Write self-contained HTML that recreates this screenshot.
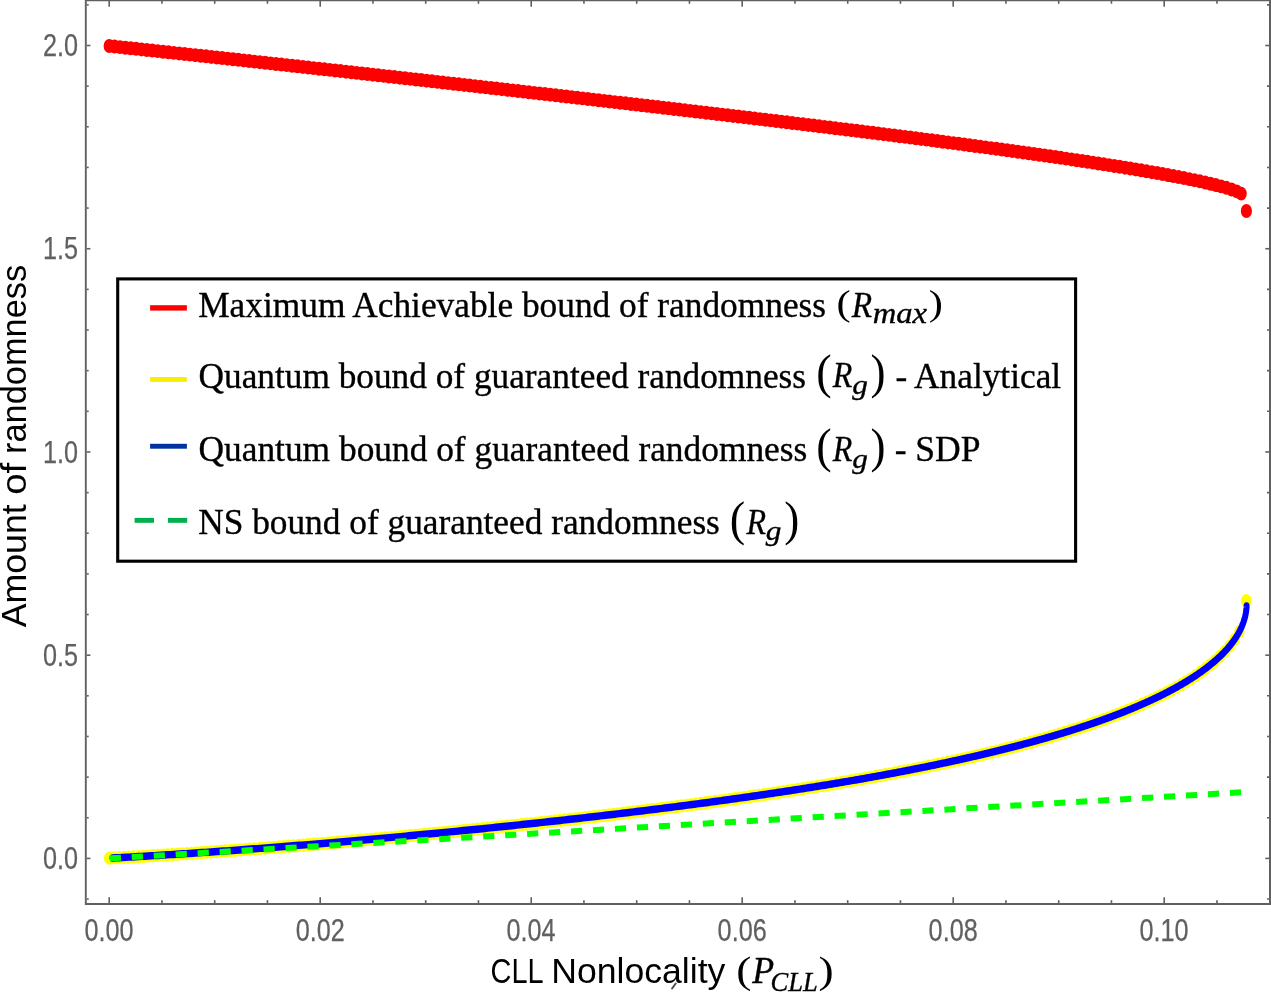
<!DOCTYPE html>
<html><head><meta charset="utf-8"><title>Randomness plot</title>
<style>
html,body{margin:0;padding:0;background:#fff;}
body{width:1271px;height:992px;overflow:hidden;position:relative;}
svg{position:absolute;left:0;top:0;display:block;}
.tk{font-family:"Liberation Sans",Arial,sans-serif;fill:#606060;stroke:#606060;stroke-width:0.25px;}
.lg{font-family:"Liberation Serif","Times New Roman",serif;fill:#000;stroke:#000;stroke-width:0.35px;}
.mi{font-family:"Liberation Serif","Times New Roman",serif;font-style:italic;fill:#000;stroke:#000;stroke-width:0.35px;}
.lp{font-family:"Liberation Serif","Times New Roman",serif;fill:#000;}
.al{font-family:"Liberation Sans",Arial,sans-serif;fill:#000;}
</style></head><body>
<svg width="1271" height="992" viewBox="0 0 1271 992">
<rect x="0" y="0" width="1271" height="992" fill="#fff"/>
<g transform="scale(1,1.245)"><polyline points="109.20,36.95 113.73,37.33 118.26,37.71 122.77,38.10 127.28,38.48 131.77,38.86 136.26,39.24 140.74,39.63 145.21,40.01 149.67,40.39 154.12,40.77 158.56,41.15 162.99,41.53 167.41,41.91 171.83,42.29 176.23,42.67 180.63,43.05 185.02,43.43 189.39,43.81 193.76,44.19 198.12,44.56 202.47,44.94 206.82,45.32 211.15,45.69 215.47,46.07 219.79,46.45 224.09,46.82 228.39,47.20 232.67,47.57 236.95,47.94 241.22,48.32 245.48,48.69 249.73,49.06 253.97,49.44 258.21,49.81 262.43,50.18 266.64,50.55 270.85,50.92 275.04,51.29 279.23,51.66 283.41,52.03 287.58,52.39 291.74,52.76 295.89,53.13 300.03,53.49 304.16,53.86 308.29,54.23 312.40,54.59 316.51,54.96 320.60,55.32 324.69,55.68 328.77,56.04 332.84,56.41 336.89,56.77 340.95,57.13 344.99,57.49 349.02,57.85 353.04,58.21 357.06,58.57 361.06,58.92 365.06,59.28 369.05,59.64 373.02,59.99 376.99,60.35 380.95,60.70 384.90,61.06 388.84,61.41 392.78,61.77 396.70,62.12 400.61,62.47 404.52,62.82 408.42,63.17 412.30,63.52 416.18,63.87 420.05,64.22 423.91,64.57 427.76,64.91 431.60,65.26 435.43,65.61 439.26,65.95 443.07,66.30 446.88,66.64 450.67,66.98 454.46,67.33 458.24,67.67 462.01,68.01 465.76,68.35 469.52,68.69 473.26,69.03 476.99,69.37 480.71,69.71 484.43,70.05 488.13,70.38 491.83,70.72 495.52,71.06 499.19,71.39 502.86,71.72 506.52,72.06 510.17,72.39 513.81,72.72 517.45,73.05 521.07,73.39 524.68,73.72 528.29,74.05 531.88,74.37 535.47,74.70 539.05,75.03 542.62,75.36 546.18,75.68 549.73,76.01 553.27,76.33 556.80,76.66 560.33,76.98 563.84,77.31 567.34,77.63 570.84,77.95 574.33,78.27 577.81,78.59 581.27,78.91 584.73,79.23 588.18,79.55 591.63,79.86 595.06,80.18 598.48,80.50 601.90,80.81 605.30,81.13 608.70,81.44 612.08,81.76 615.46,82.07 618.83,82.38 622.19,82.69 625.54,83.00 628.88,83.32 632.21,83.62 635.54,83.93 638.85,84.24 642.16,84.55 645.45,84.86 648.74,85.16 652.02,85.47 655.29,85.77 658.55,86.08 661.80,86.38 665.04,86.69 668.27,86.99 671.49,87.29 674.71,87.59 677.91,87.89 681.11,88.19 684.29,88.49 687.47,88.79 690.64,89.09 693.80,89.39 696.95,89.68 700.09,89.98 703.22,90.27 706.35,90.57 709.46,90.86 712.57,91.16 715.66,91.45 718.75,91.74 721.83,92.03 724.90,92.32 727.96,92.61 731.01,92.90 734.05,93.19 737.08,93.48 740.10,93.77 743.12,94.06 746.12,94.34 749.12,94.63 752.11,94.92 755.08,95.20 758.05,95.48 761.01,95.77 763.96,96.05 766.90,96.33 769.84,96.61 772.76,96.90 775.67,97.18 778.58,97.46 781.47,97.73 784.36,98.01 787.24,98.29 790.11,98.57 792.97,98.85 795.82,99.12 798.66,99.40 801.49,99.67 804.31,99.95 807.13,100.22 809.93,100.49 812.73,100.77 815.52,101.04 818.29,101.31 821.06,101.58 823.82,101.85 826.57,102.12 829.31,102.39 832.05,102.66 834.77,102.93 837.48,103.19 840.19,103.46 842.88,103.73 845.57,103.99 848.25,104.26 850.92,104.52 853.58,104.78 856.23,105.05 858.87,105.31 861.50,105.57 864.12,105.83 866.74,106.09 869.34,106.35 871.94,106.61 874.52,106.87 877.10,107.13 879.67,107.39 882.23,107.65 884.78,107.90 887.32,108.16 889.85,108.41 892.38,108.67 894.89,108.92 897.40,109.18 899.89,109.43 902.38,109.68 904.86,109.94 907.32,110.19 909.78,110.44 912.23,110.69 914.68,110.94 917.11,111.19 919.53,111.44 921.95,111.68 924.35,111.93 926.75,112.18 929.13,112.43 931.51,112.67 933.88,112.92 936.24,113.16 938.59,113.41 940.93,113.65 943.26,113.89 945.59,114.14 947.90,114.38 950.20,114.62 952.50,114.86 954.79,115.10 957.06,115.34 959.33,115.58 961.59,115.82 963.84,116.06 966.08,116.29 968.32,116.53 970.54,116.77 972.75,117.00 974.96,117.24 977.15,117.47 979.34,117.71 981.52,117.94 983.69,118.17 985.85,118.41 988.00,118.64 990.14,118.87 992.27,119.10 994.39,119.33 996.51,119.56 998.61,119.79 1000.71,120.02 1002.79,120.25 1004.87,120.47 1006.94,120.70 1009.00,120.93 1011.05,121.15 1013.09,121.38 1015.12,121.60 1017.15,121.83 1019.16,122.05 1021.17,122.28 1023.16,122.50 1025.15,122.72 1027.13,122.94 1029.09,123.16 1031.05,123.38 1033.00,123.60 1034.94,123.82 1036.88,124.04 1038.80,124.26 1040.71,124.48 1042.62,124.69 1044.51,124.91 1046.40,125.13 1048.28,125.34 1050.15,125.56 1052.01,125.77 1053.86,125.98 1055.70,126.20 1057.53,126.41 1059.35,126.62 1061.17,126.83 1062.97,127.04 1064.77,127.26 1066.55,127.46 1068.33,127.67 1070.10,127.88 1071.86,128.09 1073.61,128.30 1075.35,128.51 1077.08,128.71 1078.81,128.92 1080.52,129.12 1082.23,129.33 1083.92,129.53 1085.61,129.74 1087.28,129.94 1088.95,130.14 1090.61,130.34 1092.26,130.55 1093.90,130.75 1095.54,130.95 1097.16,131.15 1098.77,131.35 1100.38,131.54 1101.97,131.74 1103.56,131.94 1105.14,132.14 1106.71,132.33 1108.27,132.53 1109.82,132.72 1111.36,132.92 1112.89,133.11 1114.41,133.31 1115.93,133.50 1117.43,133.69 1118.93,133.88 1120.41,134.08 1121.89,134.27 1123.36,134.46 1124.82,134.65 1126.27,134.84 1127.71,135.02 1129.14,135.21 1130.56,135.40 1131.98,135.59 1133.38,135.77 1134.78,135.96 1136.17,136.14 1137.54,136.33 1138.91,136.51 1140.27,136.69 1141.62,136.88 1142.96,137.06 1144.29,137.24 1145.62,137.42 1146.93,137.60 1148.24,137.78 1149.53,137.96 1150.82,138.14 1152.10,138.32 1153.36,138.49 1154.62,138.67 1155.87,138.85 1157.11,139.02 1158.35,139.20 1159.57,139.37 1160.78,139.54 1161.99,139.72 1163.18,139.89 1164.37,140.06 1165.55,140.23 1166.72,140.40 1167.87,140.57 1169.03,140.74 1170.17,140.91 1171.30,141.08 1172.42,141.25 1173.53,141.42 1174.64,141.58 1175.74,141.75 1176.82,141.91 1177.90,142.08 1178.97,142.24 1180.03,142.40 1181.08,142.57 1182.12,142.73 1183.15,142.89 1184.17,143.05 1185.19,143.21 1186.19,143.37 1187.19,143.53 1188.17,143.69 1189.15,143.85 1190.12,144.00 1191.08,144.16 1192.03,144.32 1192.97,144.47 1193.90,144.63 1194.82,144.78 1195.74,144.93 1196.64,145.09 1197.54,145.24 1198.43,145.39 1199.30,145.54 1200.17,145.69 1201.03,145.84 1201.88,145.99 1202.72,146.14 1203.55,146.28 1204.38,146.43 1205.19,146.58 1205.99,146.72 1206.79,146.87 1207.58,147.01 1208.35,147.15 1209.12,147.30 1209.88,147.44 1210.63,147.58 1211.37,147.72 1212.10,147.86 1212.83,148.00 1213.54,148.14 1214.25,148.28 1214.94,148.41 1215.63,148.55 1216.31,148.69 1216.97,148.82 1217.63,148.96 1218.28,149.09 1218.92,149.22 1219.56,149.35 1220.18,149.48 1220.79,149.62 1221.40,149.75 1221.99,149.87 1222.58,150.00 1223.16,150.13 1223.72,150.26 1224.28,150.38 1224.83,150.51 1225.37,150.63 1225.91,150.76 1226.43,150.88 1226.94,151.00 1227.45,151.12 1227.94,151.24 1228.43,151.36 1228.91,151.48 1229.38,151.60 1229.83,151.71 1230.28,151.83 1230.73,151.94 1231.16,152.06 1231.58,152.17 1231.99,152.28 1232.40,152.39 1232.79,152.50 1233.18,152.61 1233.56,152.72 1233.93,152.83 1234.29,152.93 1234.64,153.04 1234.98,153.14 1235.31,153.24 1235.63,153.34 1235.94,153.44 1236.25,153.54 1236.54,153.64 1236.83,153.73 1237.11,153.83 1237.38,153.92 1237.64,154.01 1237.89,154.10 1238.13,154.19 1238.36,154.27 1238.58,154.36 1238.80,154.44 1239.00,154.52 1239.20,154.60 1239.38,154.67 1239.56,154.74 1239.73,154.81 1239.89,154.88 1240.04,154.95 1240.18,155.01 1240.31,155.07 1240.43,155.13 1240.55,155.18 1240.65,155.23 1240.75,155.27 1240.83,155.31 1240.91,155.35 1240.98,155.39 1241.04,155.42 1241.09,155.44 1241.13,155.46 1241.16,155.48 1241.18,155.49 1241.20,155.50 1241.20,155.50" fill="none" stroke="#ff0000" stroke-width="11.2" stroke-linecap="round" stroke-linejoin="round" stroke-dasharray="0 5.4"/></g>
<ellipse cx="1246.4" cy="211" rx="5.6" ry="6.9" fill="#ff0000"/>
<ellipse cx="1241.20" cy="193.60" rx="5.6" ry="6.97" fill="#ff0000"/>
<g fill="#ffff00"><ellipse cx="109.30" cy="858.20" rx="5.3" ry="6.6"/><ellipse cx="114.15" cy="857.94" rx="5.3" ry="6.6"/><ellipse cx="119.00" cy="857.67" rx="5.3" ry="6.6"/><ellipse cx="123.85" cy="857.41" rx="5.3" ry="6.6"/><ellipse cx="128.70" cy="857.13" rx="5.3" ry="6.6"/><ellipse cx="133.55" cy="856.86" rx="5.3" ry="6.6"/><ellipse cx="138.40" cy="856.58" rx="5.3" ry="6.6"/><ellipse cx="143.25" cy="856.29" rx="5.3" ry="6.6"/><ellipse cx="148.10" cy="856.00" rx="5.3" ry="6.6"/><ellipse cx="152.95" cy="855.71" rx="5.3" ry="6.6"/><ellipse cx="157.80" cy="855.42" rx="5.3" ry="6.6"/><ellipse cx="162.65" cy="855.12" rx="5.3" ry="6.6"/><ellipse cx="167.50" cy="854.81" rx="5.3" ry="6.6"/><ellipse cx="172.35" cy="854.51" rx="5.3" ry="6.6"/><ellipse cx="177.20" cy="854.20" rx="5.3" ry="6.6"/><ellipse cx="182.05" cy="853.89" rx="5.3" ry="6.6"/><ellipse cx="186.90" cy="853.57" rx="5.3" ry="6.6"/><ellipse cx="191.75" cy="853.25" rx="5.3" ry="6.6"/><ellipse cx="196.60" cy="852.92" rx="5.3" ry="6.6"/><ellipse cx="201.45" cy="852.60" rx="5.3" ry="6.6"/><ellipse cx="206.30" cy="852.27" rx="5.3" ry="6.6"/><ellipse cx="211.15" cy="851.93" rx="5.3" ry="6.6"/><ellipse cx="216.00" cy="851.60" rx="5.3" ry="6.6"/><ellipse cx="220.85" cy="851.26" rx="5.3" ry="6.6"/><ellipse cx="225.70" cy="850.91" rx="5.3" ry="6.6"/><ellipse cx="230.55" cy="850.57" rx="5.3" ry="6.6"/><ellipse cx="235.40" cy="850.22" rx="5.3" ry="6.6"/><ellipse cx="240.25" cy="849.87" rx="5.3" ry="6.6"/><ellipse cx="245.10" cy="849.51" rx="5.3" ry="6.6"/><ellipse cx="249.95" cy="849.15" rx="5.3" ry="6.6"/><ellipse cx="254.80" cy="848.79" rx="5.3" ry="6.6"/><ellipse cx="259.65" cy="848.42" rx="5.3" ry="6.6"/><ellipse cx="264.50" cy="848.06" rx="5.3" ry="6.6"/><ellipse cx="269.35" cy="847.69" rx="5.3" ry="6.6"/><ellipse cx="274.20" cy="847.31" rx="5.3" ry="6.6"/><ellipse cx="279.05" cy="846.93" rx="5.3" ry="6.6"/><ellipse cx="283.90" cy="846.55" rx="5.3" ry="6.6"/><ellipse cx="288.75" cy="846.17" rx="5.3" ry="6.6"/><ellipse cx="293.60" cy="845.79" rx="5.3" ry="6.6"/><ellipse cx="298.45" cy="845.40" rx="5.3" ry="6.6"/><ellipse cx="303.30" cy="845.01" rx="5.3" ry="6.6"/><ellipse cx="308.15" cy="844.61" rx="5.3" ry="6.6"/><ellipse cx="313.00" cy="844.22" rx="5.3" ry="6.6"/><ellipse cx="317.85" cy="843.82" rx="5.3" ry="6.6"/><ellipse cx="322.70" cy="843.41" rx="5.3" ry="6.6"/><ellipse cx="327.55" cy="843.01" rx="5.3" ry="6.6"/><ellipse cx="332.40" cy="842.60" rx="5.3" ry="6.6"/><ellipse cx="337.25" cy="842.19" rx="5.3" ry="6.6"/><ellipse cx="342.10" cy="841.78" rx="5.3" ry="6.6"/><ellipse cx="346.95" cy="841.36" rx="5.3" ry="6.6"/><ellipse cx="351.80" cy="840.94" rx="5.3" ry="6.6"/><ellipse cx="356.65" cy="840.52" rx="5.3" ry="6.6"/><ellipse cx="361.50" cy="840.10" rx="5.3" ry="6.6"/><ellipse cx="366.35" cy="839.67" rx="5.3" ry="6.6"/><ellipse cx="371.20" cy="839.24" rx="5.3" ry="6.6"/><ellipse cx="376.05" cy="838.81" rx="5.3" ry="6.6"/><ellipse cx="380.90" cy="838.38" rx="5.3" ry="6.6"/><ellipse cx="385.75" cy="837.94" rx="5.3" ry="6.6"/><ellipse cx="390.60" cy="837.50" rx="5.3" ry="6.6"/><ellipse cx="395.45" cy="837.06" rx="5.3" ry="6.6"/><ellipse cx="400.30" cy="836.61" rx="5.3" ry="6.6"/><ellipse cx="405.15" cy="836.16" rx="5.3" ry="6.6"/><ellipse cx="410.00" cy="835.71" rx="5.3" ry="6.6"/><ellipse cx="414.85" cy="835.26" rx="5.3" ry="6.6"/><ellipse cx="419.70" cy="834.80" rx="5.3" ry="6.6"/><ellipse cx="424.55" cy="834.35" rx="5.3" ry="6.6"/><ellipse cx="429.40" cy="833.89" rx="5.3" ry="6.6"/><ellipse cx="434.25" cy="833.42" rx="5.3" ry="6.6"/><ellipse cx="439.10" cy="832.96" rx="5.3" ry="6.6"/><ellipse cx="443.95" cy="832.49" rx="5.3" ry="6.6"/><ellipse cx="448.80" cy="832.02" rx="5.3" ry="6.6"/><ellipse cx="453.65" cy="831.54" rx="5.3" ry="6.6"/><ellipse cx="458.50" cy="831.06" rx="5.3" ry="6.6"/><ellipse cx="463.35" cy="830.58" rx="5.3" ry="6.6"/><ellipse cx="468.20" cy="830.10" rx="5.3" ry="6.6"/><ellipse cx="473.05" cy="829.62" rx="5.3" ry="6.6"/><ellipse cx="477.90" cy="829.13" rx="5.3" ry="6.6"/><ellipse cx="482.75" cy="828.64" rx="5.3" ry="6.6"/><ellipse cx="487.60" cy="828.15" rx="5.3" ry="6.6"/><ellipse cx="492.45" cy="827.65" rx="5.3" ry="6.6"/><ellipse cx="497.30" cy="827.15" rx="5.3" ry="6.6"/><ellipse cx="502.15" cy="826.65" rx="5.3" ry="6.6"/><ellipse cx="507.00" cy="826.15" rx="5.3" ry="6.6"/><ellipse cx="511.85" cy="825.64" rx="5.3" ry="6.6"/><ellipse cx="516.70" cy="825.13" rx="5.3" ry="6.6"/><ellipse cx="521.55" cy="824.62" rx="5.3" ry="6.6"/><ellipse cx="526.40" cy="824.10" rx="5.3" ry="6.6"/><ellipse cx="531.25" cy="823.58" rx="5.3" ry="6.6"/><ellipse cx="536.10" cy="823.06" rx="5.3" ry="6.6"/><ellipse cx="540.95" cy="822.54" rx="5.3" ry="6.6"/><ellipse cx="545.80" cy="822.01" rx="5.3" ry="6.6"/><ellipse cx="550.65" cy="821.48" rx="5.3" ry="6.6"/><ellipse cx="555.50" cy="820.95" rx="5.3" ry="6.6"/><ellipse cx="560.35" cy="820.41" rx="5.3" ry="6.6"/><ellipse cx="565.20" cy="819.87" rx="5.3" ry="6.6"/><ellipse cx="570.05" cy="819.33" rx="5.3" ry="6.6"/><ellipse cx="574.90" cy="818.79" rx="5.3" ry="6.6"/><ellipse cx="579.75" cy="818.24" rx="5.3" ry="6.6"/><ellipse cx="584.60" cy="817.68" rx="5.3" ry="6.6"/><ellipse cx="589.45" cy="817.13" rx="5.3" ry="6.6"/><ellipse cx="594.30" cy="816.57" rx="5.3" ry="6.6"/><ellipse cx="599.15" cy="816.01" rx="5.3" ry="6.6"/><ellipse cx="604.00" cy="815.44" rx="5.3" ry="6.6"/><ellipse cx="608.85" cy="814.88" rx="5.3" ry="6.6"/><ellipse cx="613.70" cy="814.30" rx="5.3" ry="6.6"/><ellipse cx="618.55" cy="813.73" rx="5.3" ry="6.6"/><ellipse cx="623.40" cy="813.15" rx="5.3" ry="6.6"/><ellipse cx="628.25" cy="812.57" rx="5.3" ry="6.6"/><ellipse cx="633.10" cy="811.98" rx="5.3" ry="6.6"/><ellipse cx="637.95" cy="811.39" rx="5.3" ry="6.6"/><ellipse cx="642.80" cy="810.80" rx="5.3" ry="6.6"/><ellipse cx="647.65" cy="810.20" rx="5.3" ry="6.6"/><ellipse cx="652.50" cy="809.60" rx="5.3" ry="6.6"/><ellipse cx="657.35" cy="808.99" rx="5.3" ry="6.6"/><ellipse cx="662.20" cy="808.38" rx="5.3" ry="6.6"/><ellipse cx="667.05" cy="807.77" rx="5.3" ry="6.6"/><ellipse cx="671.90" cy="807.15" rx="5.3" ry="6.6"/><ellipse cx="676.75" cy="806.53" rx="5.3" ry="6.6"/><ellipse cx="681.60" cy="805.90" rx="5.3" ry="6.6"/><ellipse cx="686.45" cy="805.27" rx="5.3" ry="6.6"/><ellipse cx="691.30" cy="804.64" rx="5.3" ry="6.6"/><ellipse cx="696.15" cy="804.00" rx="5.3" ry="6.6"/><ellipse cx="701.00" cy="803.36" rx="5.3" ry="6.6"/><ellipse cx="705.85" cy="802.71" rx="5.3" ry="6.6"/><ellipse cx="710.70" cy="802.06" rx="5.3" ry="6.6"/><ellipse cx="715.55" cy="801.40" rx="5.3" ry="6.6"/><ellipse cx="720.40" cy="800.74" rx="5.3" ry="6.6"/><ellipse cx="725.25" cy="800.07" rx="5.3" ry="6.6"/><ellipse cx="730.10" cy="799.40" rx="5.3" ry="6.6"/><ellipse cx="734.95" cy="798.72" rx="5.3" ry="6.6"/><ellipse cx="739.80" cy="798.04" rx="5.3" ry="6.6"/><ellipse cx="744.65" cy="797.35" rx="5.3" ry="6.6"/><ellipse cx="749.50" cy="796.66" rx="5.3" ry="6.6"/><ellipse cx="754.35" cy="795.96" rx="5.3" ry="6.6"/><ellipse cx="759.20" cy="795.26" rx="5.3" ry="6.6"/><ellipse cx="764.05" cy="794.55" rx="5.3" ry="6.6"/><ellipse cx="768.90" cy="793.83" rx="5.3" ry="6.6"/><ellipse cx="773.75" cy="793.11" rx="5.3" ry="6.6"/><ellipse cx="778.60" cy="792.39" rx="5.3" ry="6.6"/><ellipse cx="783.45" cy="791.66" rx="5.3" ry="6.6"/><ellipse cx="788.30" cy="790.92" rx="5.3" ry="6.6"/><ellipse cx="793.15" cy="790.17" rx="5.3" ry="6.6"/><ellipse cx="798.00" cy="789.42" rx="5.3" ry="6.6"/><ellipse cx="802.85" cy="788.66" rx="5.3" ry="6.6"/><ellipse cx="807.70" cy="787.90" rx="5.3" ry="6.6"/><ellipse cx="812.55" cy="787.13" rx="5.3" ry="6.6"/><ellipse cx="817.40" cy="786.35" rx="5.3" ry="6.6"/><ellipse cx="822.25" cy="785.56" rx="5.3" ry="6.6"/><ellipse cx="827.10" cy="784.77" rx="5.3" ry="6.6"/><ellipse cx="831.95" cy="783.97" rx="5.3" ry="6.6"/><ellipse cx="836.80" cy="783.16" rx="5.3" ry="6.6"/><ellipse cx="841.65" cy="782.35" rx="5.3" ry="6.6"/><ellipse cx="846.50" cy="781.52" rx="5.3" ry="6.6"/><ellipse cx="851.35" cy="780.69" rx="5.3" ry="6.6"/><ellipse cx="856.20" cy="779.85" rx="5.3" ry="6.6"/><ellipse cx="861.05" cy="779.01" rx="5.3" ry="6.6"/><ellipse cx="865.90" cy="778.15" rx="5.3" ry="6.6"/><ellipse cx="870.75" cy="777.29" rx="5.3" ry="6.6"/><ellipse cx="875.60" cy="776.41" rx="5.3" ry="6.6"/><ellipse cx="880.45" cy="775.53" rx="5.3" ry="6.6"/><ellipse cx="885.30" cy="774.64" rx="5.3" ry="6.6"/><ellipse cx="890.15" cy="773.74" rx="5.3" ry="6.6"/><ellipse cx="895.00" cy="772.83" rx="5.3" ry="6.6"/><ellipse cx="899.85" cy="771.91" rx="5.3" ry="6.6"/><ellipse cx="904.70" cy="770.98" rx="5.3" ry="6.6"/><ellipse cx="909.55" cy="770.04" rx="5.3" ry="6.6"/><ellipse cx="914.40" cy="769.08" rx="5.3" ry="6.6"/><ellipse cx="919.25" cy="768.12" rx="5.3" ry="6.6"/><ellipse cx="924.10" cy="767.15" rx="5.3" ry="6.6"/><ellipse cx="928.95" cy="766.16" rx="5.3" ry="6.6"/><ellipse cx="933.80" cy="765.16" rx="5.3" ry="6.6"/><ellipse cx="938.65" cy="764.16" rx="5.3" ry="6.6"/><ellipse cx="943.50" cy="763.13" rx="5.3" ry="6.6"/><ellipse cx="948.35" cy="762.10" rx="5.3" ry="6.6"/><ellipse cx="953.20" cy="761.05" rx="5.3" ry="6.6"/><ellipse cx="958.05" cy="759.99" rx="5.3" ry="6.6"/><ellipse cx="962.90" cy="758.92" rx="5.3" ry="6.6"/><ellipse cx="967.75" cy="757.83" rx="5.3" ry="6.6"/><ellipse cx="972.60" cy="756.73" rx="5.3" ry="6.6"/><ellipse cx="977.45" cy="755.61" rx="5.3" ry="6.6"/><ellipse cx="982.30" cy="754.48" rx="5.3" ry="6.6"/><ellipse cx="987.15" cy="753.33" rx="5.3" ry="6.6"/><ellipse cx="992.00" cy="752.17" rx="5.3" ry="6.6"/><ellipse cx="996.85" cy="750.99" rx="5.3" ry="6.6"/><ellipse cx="1001.70" cy="749.79" rx="5.3" ry="6.6"/><ellipse cx="1006.55" cy="748.58" rx="5.3" ry="6.6"/><ellipse cx="1011.40" cy="747.35" rx="5.3" ry="6.6"/><ellipse cx="1016.25" cy="746.10" rx="5.3" ry="6.6"/><ellipse cx="1021.10" cy="744.83" rx="5.3" ry="6.6"/><ellipse cx="1025.95" cy="743.54" rx="5.3" ry="6.6"/><ellipse cx="1030.80" cy="742.22" rx="5.3" ry="6.6"/><ellipse cx="1035.65" cy="740.89" rx="5.3" ry="6.6"/><ellipse cx="1040.50" cy="739.54" rx="5.3" ry="6.6"/><ellipse cx="1045.35" cy="738.16" rx="5.3" ry="6.6"/><ellipse cx="1050.20" cy="736.76" rx="5.3" ry="6.6"/><ellipse cx="1055.05" cy="735.34" rx="5.3" ry="6.6"/><ellipse cx="1059.90" cy="733.89" rx="5.3" ry="6.6"/><ellipse cx="1064.75" cy="732.41" rx="5.3" ry="6.6"/><ellipse cx="1069.60" cy="730.91" rx="5.3" ry="6.6"/><ellipse cx="1074.45" cy="729.38" rx="5.3" ry="6.6"/><ellipse cx="1079.30" cy="727.82" rx="5.3" ry="6.6"/><ellipse cx="1084.15" cy="726.23" rx="5.3" ry="6.6"/><ellipse cx="1089.00" cy="724.61" rx="5.3" ry="6.6"/><ellipse cx="1093.85" cy="722.95" rx="5.3" ry="6.6"/><ellipse cx="1098.70" cy="721.26" rx="5.3" ry="6.6"/><ellipse cx="1103.55" cy="719.53" rx="5.3" ry="6.6"/><ellipse cx="1108.40" cy="717.76" rx="5.3" ry="6.6"/><ellipse cx="1113.25" cy="715.95" rx="5.3" ry="6.6"/><ellipse cx="1118.10" cy="714.10" rx="5.3" ry="6.6"/><ellipse cx="1122.95" cy="712.21" rx="5.3" ry="6.6"/><ellipse cx="1127.80" cy="710.26" rx="5.3" ry="6.6"/><ellipse cx="1132.65" cy="708.27" rx="5.3" ry="6.6"/><ellipse cx="1137.50" cy="706.22" rx="5.3" ry="6.6"/><ellipse cx="1142.35" cy="704.12" rx="5.3" ry="6.6"/><ellipse cx="1147.20" cy="701.95" rx="5.3" ry="6.6"/><ellipse cx="1152.05" cy="699.72" rx="5.3" ry="6.6"/><ellipse cx="1156.90" cy="697.42" rx="5.3" ry="6.6"/><ellipse cx="1161.75" cy="695.04" rx="5.3" ry="6.6"/><ellipse cx="1166.60" cy="692.58" rx="5.3" ry="6.6"/><ellipse cx="1171.45" cy="690.03" rx="5.3" ry="6.6"/><ellipse cx="1176.30" cy="687.38" rx="5.3" ry="6.6"/><ellipse cx="1181.15" cy="684.62" rx="5.3" ry="6.6"/><ellipse cx="1186.00" cy="681.74" rx="5.3" ry="6.6"/><ellipse cx="1190.85" cy="678.73" rx="5.3" ry="6.6"/><ellipse cx="1195.70" cy="675.56" rx="5.3" ry="6.6"/><ellipse cx="1200.55" cy="672.22" rx="5.3" ry="6.6"/><ellipse cx="1205.40" cy="668.68" rx="5.3" ry="6.6"/><ellipse cx="1210.25" cy="664.89" rx="5.3" ry="6.6"/><ellipse cx="1215.10" cy="660.82" rx="5.3" ry="6.6"/><ellipse cx="1219.95" cy="656.40" rx="5.3" ry="6.6"/><ellipse cx="1224.80" cy="651.51" rx="5.3" ry="6.6"/><ellipse cx="1229.65" cy="646.00" rx="5.3" ry="6.6"/><ellipse cx="1234.50" cy="639.58" rx="5.3" ry="6.6"/><ellipse cx="1239.35" cy="631.61" rx="5.3" ry="6.6"/><ellipse cx="1246.3" cy="600.6" rx="5.4" ry="6.6"/></g>
<g transform="scale(1,1.245)"><polyline points="112.55,689.18 115.80,689.04 119.04,688.89 122.28,688.75 125.51,688.60 128.74,688.46 131.96,688.31 135.18,688.16 138.40,688.01 141.61,687.86 144.81,687.71 148.01,687.56 151.21,687.40 154.40,687.25 157.59,687.09 160.77,686.93 163.95,686.78 167.12,686.62 170.29,686.46 173.45,686.30 176.61,686.13 179.76,685.97 182.91,685.81 186.06,685.64 189.20,685.48 192.33,685.31 195.46,685.14 198.59,684.97 201.71,684.80 204.83,684.63 207.94,684.46 211.05,684.29 214.15,684.12 217.25,683.94 220.34,683.77 223.43,683.59 226.51,683.42 229.59,683.24 232.67,683.06 235.74,682.89 238.80,682.71 241.87,682.53 244.92,682.35 247.97,682.17 251.02,681.98 254.06,681.80 257.10,681.62 260.13,681.44 263.16,681.25 266.18,681.07 269.20,680.88 272.22,680.69 275.23,680.51 278.23,680.32 281.23,680.13 284.23,679.94 287.22,679.75 290.21,679.56 293.19,679.37 296.17,679.18 299.14,678.99 302.11,678.80 305.07,678.61 308.03,678.41 310.98,678.22 313.93,678.02 316.87,677.83 319.81,677.63 322.75,677.44 325.68,677.24 328.61,677.05 331.53,676.85 334.44,676.65 337.36,676.45 340.26,676.25 343.17,676.05 346.06,675.85 348.96,675.65 351.85,675.45 354.73,675.25 357.61,675.05 360.48,674.85 363.35,674.65 366.22,674.44 369.08,674.24 371.94,674.04 374.79,673.83 377.63,673.63 380.48,673.42 383.31,673.22 386.15,673.01 388.97,672.81 391.80,672.60 394.62,672.40 397.43,672.19 400.24,671.98 403.04,671.77 405.84,671.57 408.64,671.36 411.43,671.15 414.22,670.94 417.00,670.73 419.78,670.52 422.55,670.31 425.32,670.10 428.08,669.89 430.84,669.68 433.59,669.47 436.34,669.25 439.08,669.04 441.82,668.83 444.56,668.62 447.29,668.40 450.01,668.19 452.74,667.98 455.45,667.76 458.16,667.55 460.87,667.33 463.57,667.12 466.27,666.90 468.96,666.69 471.65,666.47 474.34,666.26 477.02,666.04 479.69,665.82 482.36,665.61 485.02,665.39 487.69,665.17 490.34,664.95 492.99,664.74 495.64,664.52 498.28,664.30 500.92,664.08 503.55,663.86 506.18,663.64 508.80,663.42 511.42,663.20 514.03,662.98 516.64,662.76 519.25,662.54 521.85,662.32 524.44,662.10 527.03,661.88 529.62,661.65 532.20,661.43 534.78,661.21 537.35,660.99 539.92,660.76 542.48,660.54 545.04,660.32 547.59,660.09 550.14,659.87 552.69,659.65 555.22,659.42 557.76,659.20 560.29,658.97 562.82,658.75 565.34,658.52 567.85,658.30 570.36,658.07 572.87,657.84 575.37,657.62 577.87,657.39 580.36,657.16 582.85,656.94 585.34,656.71 587.81,656.48 590.29,656.25 592.76,656.02 595.22,655.79 597.68,655.57 600.14,655.34 602.59,655.11 605.04,654.88 607.48,654.65 609.92,654.42 612.35,654.19 614.78,653.96 617.20,653.73 619.62,653.49 622.03,653.26 624.44,653.03 626.84,652.80 629.24,652.57 631.64,652.33 634.03,652.10 636.42,651.87 638.80,651.64 641.17,651.40 643.55,651.17 645.91,650.93 648.28,650.70 650.63,650.46 652.99,650.23 655.34,649.99 657.68,649.76 660.02,649.52 662.35,649.29 664.68,649.05 667.01,648.81 669.33,648.58 671.65,648.34 673.96,648.10 676.26,647.87 678.57,647.63 680.86,647.39 683.16,647.15 685.44,646.91 687.73,646.67 690.01,646.43 692.28,646.19 694.55,645.95 696.81,645.71 699.07,645.47 701.33,645.23 703.58,644.99 705.83,644.75 708.07,644.51 710.31,644.27 712.54,644.02 714.77,643.78 716.99,643.54 719.21,643.29 721.42,643.05 723.63,642.81 725.83,642.56 728.03,642.32 730.23,642.07 732.42,641.83 734.60,641.58 736.79,641.34 738.96,641.09 741.13,640.84 743.30,640.60 745.46,640.35 747.62,640.10 749.77,639.86 751.92,639.61 754.07,639.36 756.20,639.11 758.34,638.86 760.47,638.61 762.59,638.36 764.71,638.11 766.83,637.86 768.94,637.61 771.05,637.36 773.15,637.11 775.25,636.86 777.34,636.61 779.43,636.36 781.51,636.10 783.59,635.85 785.66,635.60 787.73,635.34 789.80,635.09 791.86,634.84 793.91,634.58 795.96,634.33 798.01,634.07 800.05,633.82 802.09,633.56 804.12,633.30 806.15,633.05 808.17,632.79 810.19,632.53 812.20,632.27 814.21,632.02 816.21,631.76 818.21,631.50 820.21,631.24 822.20,630.98 824.18,630.72 826.17,630.46 828.14,630.20 830.11,629.94 832.08,629.68 834.04,629.42 836.00,629.15 837.95,628.89 839.90,628.63 841.84,628.37 843.78,628.10 845.72,627.84 847.65,627.57 849.57,627.31 851.49,627.04 853.41,626.78 855.32,626.51 857.23,626.25 859.13,625.98 861.02,625.71 862.92,625.45 864.80,625.18 866.69,624.91 868.57,624.64 870.44,624.37 872.31,624.10 874.17,623.83 876.03,623.56 877.89,623.29 879.74,623.02 881.58,622.75 883.43,622.48 885.26,622.21 887.09,621.93 888.92,621.66 890.74,621.39 892.56,621.11 894.38,620.84 896.18,620.57 897.99,620.29 899.79,620.02 901.58,619.74 903.37,619.46 905.16,619.19 906.94,618.91 908.71,618.63 910.49,618.36 912.25,618.08 914.01,617.80 915.77,617.52 917.52,617.24 919.27,616.96 921.02,616.68 922.75,616.40 924.49,616.12 926.22,615.84 927.94,615.56 929.66,615.27 931.38,614.99 933.09,614.71 934.80,614.42 936.50,614.14 938.19,613.86 939.89,613.57 941.57,613.29 943.26,613.00 944.93,612.71 946.61,612.43 948.28,612.14 949.94,611.85 951.60,611.57 953.26,611.28 954.91,610.99 956.55,610.70 958.19,610.41 959.83,610.12 961.46,609.83 963.09,609.54 964.71,609.25 966.33,608.96 967.94,608.67 969.55,608.37 971.15,608.08 972.75,607.79 974.35,607.49 975.94,607.20 977.52,606.91 979.10,606.61 980.68,606.31 982.25,606.02 983.82,605.72 985.38,605.43 986.93,605.13 988.49,604.83 990.04,604.53 991.58,604.23 993.12,603.94 994.65,603.64 996.18,603.34 997.70,603.04 999.22,602.74 1000.74,602.44 1002.25,602.13 1003.76,601.83 1005.26,601.53 1006.75,601.23 1008.25,600.92 1009.73,600.62 1011.22,600.32 1012.70,600.01 1014.17,599.71 1015.64,599.40 1017.10,599.10 1018.56,598.79 1020.02,598.48 1021.47,598.18 1022.91,597.87 1024.35,597.56 1025.79,597.25 1027.22,596.94 1028.65,596.63 1030.07,596.32 1031.49,596.01 1032.90,595.70 1034.31,595.39 1035.71,595.08 1037.11,594.77 1038.50,594.46 1039.89,594.14 1041.28,593.83 1042.66,593.52 1044.03,593.20 1045.41,592.89 1046.77,592.57 1048.13,592.26 1049.49,591.94 1050.84,591.63 1052.19,591.31 1053.53,590.99 1054.87,590.68 1056.21,590.36 1057.54,590.04 1058.86,589.72 1060.18,589.40 1061.49,589.08 1062.81,588.76 1064.11,588.44 1065.41,588.12 1066.71,587.80 1068.00,587.48 1069.29,587.16 1070.57,586.83 1071.85,586.51 1073.12,586.19 1074.39,585.86 1075.65,585.54 1076.91,585.21 1078.17,584.89 1079.42,584.56 1080.66,584.24 1081.90,583.91 1083.14,583.58 1084.37,583.26 1085.60,582.93 1086.82,582.60 1088.04,582.27 1089.25,581.94 1090.46,581.62 1091.66,581.29 1092.86,580.96 1094.05,580.63 1095.24,580.29 1096.43,579.96 1097.61,579.63 1098.78,579.30 1099.95,578.97 1101.12,578.63 1102.28,578.30 1103.44,577.97 1104.59,577.63 1105.74,577.30 1106.88,576.96 1108.02,576.63 1109.15,576.29 1110.28,575.95 1111.41,575.62 1112.53,575.28 1113.64,574.94 1114.75,574.61 1115.86,574.27 1116.96,573.93 1118.05,573.59 1119.15,573.25 1120.23,572.91 1121.32,572.57 1122.39,572.23 1123.47,571.89 1124.53,571.55 1125.60,571.21 1126.66,570.86 1127.71,570.52 1128.76,570.18 1129.81,569.83 1130.85,569.49 1131.88,569.15 1132.91,568.80 1133.94,568.46 1134.96,568.11 1135.98,567.77 1136.99,567.42 1138.00,567.07 1139.00,566.73 1140.00,566.38 1141.00,566.03 1141.99,565.68 1142.97,565.33 1143.95,564.99 1144.93,564.64 1145.90,564.29 1146.86,563.94 1147.82,563.59 1148.78,563.24 1149.73,562.89 1150.68,562.53 1151.62,562.18 1152.56,561.83 1153.49,561.48 1154.42,561.13 1155.35,560.77 1156.27,560.42 1157.18,560.06 1158.09,559.71 1159.00,559.36 1159.90,559.00 1160.79,558.64 1161.68,558.29 1162.57,557.93 1163.45,557.58 1164.33,557.22 1165.20,556.86 1166.07,556.51 1166.94,556.15 1167.79,555.79 1168.65,555.43 1169.50,555.07 1170.34,554.71 1171.18,554.35 1172.02,553.99 1172.85,553.63 1173.68,553.27 1174.50,552.91 1175.32,552.55 1176.13,552.19 1176.94,551.83 1177.74,551.46 1178.54,551.10 1179.33,550.74 1180.12,550.37 1180.90,550.01 1181.68,549.65 1182.46,549.28 1183.23,548.92 1184.00,548.55 1184.76,548.19 1185.51,547.82 1186.26,547.45 1187.01,547.09 1187.75,546.72 1188.49,546.35 1189.23,545.99 1189.95,545.62 1190.68,545.25 1191.40,544.88 1192.11,544.51 1192.82,544.14 1193.53,543.78 1194.23,543.41 1194.92,543.04 1195.61,542.67 1196.30,542.29 1196.98,541.92 1197.66,541.55 1198.33,541.18 1199.00,540.81 1199.66,540.44 1200.32,540.06 1200.98,539.69 1201.63,539.32 1202.27,538.95 1202.91,538.57 1203.55,538.20 1204.18,537.82 1204.80,537.45 1205.43,537.07 1206.04,536.70 1206.65,536.32 1207.26,535.95 1207.87,535.57 1208.46,535.20 1209.06,534.82 1209.65,534.44 1210.23,534.06 1210.81,533.69 1211.38,533.31 1211.96,532.93 1212.52,532.55 1213.08,532.17 1213.64,531.79 1214.19,531.42 1214.74,531.04 1215.28,530.66 1215.82,530.28 1216.35,529.90 1216.88,529.52 1217.40,529.13 1217.92,528.75 1218.44,528.37 1218.94,527.99 1219.45,527.61 1219.95,527.23 1220.45,526.84 1220.94,526.46 1221.42,526.08 1221.91,525.69 1222.38,525.31 1222.86,524.93 1223.32,524.54 1223.79,524.16 1224.25,523.77 1224.70,523.39 1225.15,523.00 1225.59,522.62 1226.03,522.23 1226.47,521.84 1226.90,521.46 1227.32,521.07 1227.75,520.69 1228.16,520.30 1228.57,519.91 1228.98,519.52 1229.38,519.14 1229.78,518.75 1230.18,518.36 1230.56,517.97 1230.95,517.58 1231.33,517.19 1231.70,516.80 1232.07,516.41 1232.44,516.02 1232.80,515.63 1233.16,515.24 1233.51,514.85 1233.85,514.46 1234.20,514.07 1234.53,513.68 1234.87,513.29 1235.19,512.90 1235.52,512.51 1235.84,512.11 1236.15,511.72 1236.46,511.33 1236.77,510.94 1237.07,510.54 1237.36,510.15 1237.65,509.76 1237.94,509.36 1238.22,508.97 1238.50,508.58 1238.77,508.18 1239.04,507.79 1239.30,507.39 1239.56,507.00 1239.81,506.60 1240.06,506.21 1240.31,505.81 1240.55,505.42 1240.78,505.02 1241.01,504.63 1241.24,504.23 1241.46,503.84 1241.67,503.44 1241.89,503.04 1242.09,502.65 1242.30,502.25 1242.49,501.85 1242.69,501.46 1242.88,501.06 1243.06,500.66 1243.24,500.27 1243.41,499.87 1243.58,499.47 1243.75,499.08 1243.91,498.68 1244.07,498.28 1244.22,497.89 1244.36,497.49 1244.51,497.09 1244.64,496.70 1244.78,496.30 1244.90,495.90 1245.03,495.51 1245.15,495.11 1245.26,494.72 1245.37,494.32 1245.47,493.93 1245.57,493.54 1245.67,493.14 1245.76,492.75 1245.85,492.36 1245.93,491.97 1246.00,491.59 1246.08,491.20 1246.14,490.82 1246.21,490.44 1246.26,490.07 1246.32,489.70 1246.37,489.33 1246.41,488.98 1246.45,488.63 1246.49,488.29 1246.52,487.98 1246.54,487.68 1246.56,487.41 1246.58,487.19 1246.59,487.01 1246.60,486.90 1246.60,486.86 1246.60,486.67" fill="none" stroke="#0000ff" stroke-width="6.0" stroke-linecap="round" stroke-linejoin="round" /></g>
<line x1="109.2" y1="858.4" x2="1241.5" y2="792.3" stroke="#00ff00" stroke-width="6" stroke-dasharray="11.2 10.8" stroke-dashoffset="-0.6"/>
<g stroke="#606060" fill="none">
<line x1="85.8" y1="0" x2="85.8" y2="905" stroke-width="1.9"/>
<line x1="1270" y1="0" x2="1270" y2="905" stroke-width="2"/>
<line x1="85" y1="0.5" x2="1271" y2="0.5" stroke-width="1.6"/>
<line x1="85" y1="904" x2="1271" y2="904" stroke-width="1.9"/>
<line x1="109.20" y1="903" x2="109.20" y2="897.30" stroke-width="1.6"/><line x1="109.20" y1="1" x2="109.20" y2="6.70" stroke-width="1.6"/>
<line x1="161.95" y1="903" x2="161.95" y2="900.20" stroke-width="1.6"/><line x1="161.95" y1="1" x2="161.95" y2="3.80" stroke-width="1.6"/>
<line x1="214.70" y1="903" x2="214.70" y2="900.20" stroke-width="1.6"/><line x1="214.70" y1="1" x2="214.70" y2="3.80" stroke-width="1.6"/>
<line x1="267.45" y1="903" x2="267.45" y2="900.20" stroke-width="1.6"/><line x1="267.45" y1="1" x2="267.45" y2="3.80" stroke-width="1.6"/>
<line x1="320.20" y1="903" x2="320.20" y2="897.30" stroke-width="1.6"/><line x1="320.20" y1="1" x2="320.20" y2="6.70" stroke-width="1.6"/>
<line x1="372.95" y1="903" x2="372.95" y2="900.20" stroke-width="1.6"/><line x1="372.95" y1="1" x2="372.95" y2="3.80" stroke-width="1.6"/>
<line x1="425.70" y1="903" x2="425.70" y2="900.20" stroke-width="1.6"/><line x1="425.70" y1="1" x2="425.70" y2="3.80" stroke-width="1.6"/>
<line x1="478.45" y1="903" x2="478.45" y2="900.20" stroke-width="1.6"/><line x1="478.45" y1="1" x2="478.45" y2="3.80" stroke-width="1.6"/>
<line x1="531.20" y1="903" x2="531.20" y2="897.30" stroke-width="1.6"/><line x1="531.20" y1="1" x2="531.20" y2="6.70" stroke-width="1.6"/>
<line x1="583.95" y1="903" x2="583.95" y2="900.20" stroke-width="1.6"/><line x1="583.95" y1="1" x2="583.95" y2="3.80" stroke-width="1.6"/>
<line x1="636.70" y1="903" x2="636.70" y2="900.20" stroke-width="1.6"/><line x1="636.70" y1="1" x2="636.70" y2="3.80" stroke-width="1.6"/>
<line x1="689.45" y1="903" x2="689.45" y2="900.20" stroke-width="1.6"/><line x1="689.45" y1="1" x2="689.45" y2="3.80" stroke-width="1.6"/>
<line x1="742.20" y1="903" x2="742.20" y2="897.30" stroke-width="1.6"/><line x1="742.20" y1="1" x2="742.20" y2="6.70" stroke-width="1.6"/>
<line x1="794.95" y1="903" x2="794.95" y2="900.20" stroke-width="1.6"/><line x1="794.95" y1="1" x2="794.95" y2="3.80" stroke-width="1.6"/>
<line x1="847.70" y1="903" x2="847.70" y2="900.20" stroke-width="1.6"/><line x1="847.70" y1="1" x2="847.70" y2="3.80" stroke-width="1.6"/>
<line x1="900.45" y1="903" x2="900.45" y2="900.20" stroke-width="1.6"/><line x1="900.45" y1="1" x2="900.45" y2="3.80" stroke-width="1.6"/>
<line x1="953.20" y1="903" x2="953.20" y2="897.30" stroke-width="1.6"/><line x1="953.20" y1="1" x2="953.20" y2="6.70" stroke-width="1.6"/>
<line x1="1005.95" y1="903" x2="1005.95" y2="900.20" stroke-width="1.6"/><line x1="1005.95" y1="1" x2="1005.95" y2="3.80" stroke-width="1.6"/>
<line x1="1058.70" y1="903" x2="1058.70" y2="900.20" stroke-width="1.6"/><line x1="1058.70" y1="1" x2="1058.70" y2="3.80" stroke-width="1.6"/>
<line x1="1111.45" y1="903" x2="1111.45" y2="900.20" stroke-width="1.6"/><line x1="1111.45" y1="1" x2="1111.45" y2="3.80" stroke-width="1.6"/>
<line x1="1164.20" y1="903" x2="1164.20" y2="897.30" stroke-width="1.6"/><line x1="1164.20" y1="1" x2="1164.20" y2="6.70" stroke-width="1.6"/>
<line x1="1216.95" y1="903" x2="1216.95" y2="900.20" stroke-width="1.6"/><line x1="1216.95" y1="1" x2="1216.95" y2="3.80" stroke-width="1.6"/>
<line x1="86.7" y1="899.04" x2="88.70" y2="899.04" stroke-width="1.6"/><line x1="1269" y1="899.04" x2="1267.00" y2="899.04" stroke-width="1.6"/>
<line x1="86.7" y1="858.40" x2="90.40" y2="858.40" stroke-width="1.6"/><line x1="1269" y1="858.40" x2="1265.30" y2="858.40" stroke-width="1.6"/>
<line x1="86.7" y1="817.75" x2="88.70" y2="817.75" stroke-width="1.6"/><line x1="1269" y1="817.75" x2="1267.00" y2="817.75" stroke-width="1.6"/>
<line x1="86.7" y1="777.11" x2="88.70" y2="777.11" stroke-width="1.6"/><line x1="1269" y1="777.11" x2="1267.00" y2="777.11" stroke-width="1.6"/>
<line x1="86.7" y1="736.46" x2="88.70" y2="736.46" stroke-width="1.6"/><line x1="1269" y1="736.46" x2="1267.00" y2="736.46" stroke-width="1.6"/>
<line x1="86.7" y1="695.82" x2="88.70" y2="695.82" stroke-width="1.6"/><line x1="1269" y1="695.82" x2="1267.00" y2="695.82" stroke-width="1.6"/>
<line x1="86.7" y1="655.17" x2="90.40" y2="655.17" stroke-width="1.6"/><line x1="1269" y1="655.17" x2="1265.30" y2="655.17" stroke-width="1.6"/>
<line x1="86.7" y1="614.53" x2="88.70" y2="614.53" stroke-width="1.6"/><line x1="1269" y1="614.53" x2="1267.00" y2="614.53" stroke-width="1.6"/>
<line x1="86.7" y1="573.88" x2="88.70" y2="573.88" stroke-width="1.6"/><line x1="1269" y1="573.88" x2="1267.00" y2="573.88" stroke-width="1.6"/>
<line x1="86.7" y1="533.24" x2="88.70" y2="533.24" stroke-width="1.6"/><line x1="1269" y1="533.24" x2="1267.00" y2="533.24" stroke-width="1.6"/>
<line x1="86.7" y1="492.59" x2="88.70" y2="492.59" stroke-width="1.6"/><line x1="1269" y1="492.59" x2="1267.00" y2="492.59" stroke-width="1.6"/>
<line x1="86.7" y1="451.95" x2="90.40" y2="451.95" stroke-width="1.6"/><line x1="1269" y1="451.95" x2="1265.30" y2="451.95" stroke-width="1.6"/>
<line x1="86.7" y1="411.30" x2="88.70" y2="411.30" stroke-width="1.6"/><line x1="1269" y1="411.30" x2="1267.00" y2="411.30" stroke-width="1.6"/>
<line x1="86.7" y1="370.66" x2="88.70" y2="370.66" stroke-width="1.6"/><line x1="1269" y1="370.66" x2="1267.00" y2="370.66" stroke-width="1.6"/>
<line x1="86.7" y1="330.01" x2="88.70" y2="330.01" stroke-width="1.6"/><line x1="1269" y1="330.01" x2="1267.00" y2="330.01" stroke-width="1.6"/>
<line x1="86.7" y1="289.37" x2="88.70" y2="289.37" stroke-width="1.6"/><line x1="1269" y1="289.37" x2="1267.00" y2="289.37" stroke-width="1.6"/>
<line x1="86.7" y1="248.73" x2="90.40" y2="248.73" stroke-width="1.6"/><line x1="1269" y1="248.73" x2="1265.30" y2="248.73" stroke-width="1.6"/>
<line x1="86.7" y1="208.08" x2="88.70" y2="208.08" stroke-width="1.6"/><line x1="1269" y1="208.08" x2="1267.00" y2="208.08" stroke-width="1.6"/>
<line x1="86.7" y1="167.43" x2="88.70" y2="167.43" stroke-width="1.6"/><line x1="1269" y1="167.43" x2="1267.00" y2="167.43" stroke-width="1.6"/>
<line x1="86.7" y1="126.79" x2="88.70" y2="126.79" stroke-width="1.6"/><line x1="1269" y1="126.79" x2="1267.00" y2="126.79" stroke-width="1.6"/>
<line x1="86.7" y1="86.14" x2="88.70" y2="86.14" stroke-width="1.6"/><line x1="1269" y1="86.14" x2="1267.00" y2="86.14" stroke-width="1.6"/>
<line x1="86.7" y1="45.50" x2="90.40" y2="45.50" stroke-width="1.6"/><line x1="1269" y1="45.50" x2="1265.30" y2="45.50" stroke-width="1.6"/>
<line x1="86.7" y1="4.86" x2="88.70" y2="4.86" stroke-width="1.6"/><line x1="1269" y1="4.86" x2="1267.00" y2="4.86" stroke-width="1.6"/>
</g>
<text class="tk" x="42.93" y="869.04" font-size="31.36" textLength="35.05" lengthAdjust="spacingAndGlyphs">0.0</text>
<text class="tk" x="43.01" y="665.81" font-size="31.36" textLength="35.05" lengthAdjust="spacingAndGlyphs">0.5</text>
<text class="tk" x="42.93" y="462.59" font-size="31.36" textLength="35.05" lengthAdjust="spacingAndGlyphs">1.0</text>
<text class="tk" x="43.01" y="259.36" font-size="31.36" textLength="35.05" lengthAdjust="spacingAndGlyphs">1.5</text>
<text class="tk" x="42.93" y="56.14" font-size="31.36" textLength="35.05" lengthAdjust="spacingAndGlyphs">2.0</text>
<text class="tk" x="84.56" y="940.60" font-size="31.36" textLength="49.08" lengthAdjust="spacingAndGlyphs">0.00</text>
<text class="tk" x="295.70" y="940.60" font-size="31.36" textLength="49.08" lengthAdjust="spacingAndGlyphs">0.02</text>
<text class="tk" x="506.44" y="940.60" font-size="31.36" textLength="49.08" lengthAdjust="spacingAndGlyphs">0.04</text>
<text class="tk" x="717.62" y="940.60" font-size="31.36" textLength="49.08" lengthAdjust="spacingAndGlyphs">0.06</text>
<text class="tk" x="928.62" y="940.60" font-size="31.36" textLength="49.08" lengthAdjust="spacingAndGlyphs">0.08</text>
<text class="tk" x="1139.56" y="940.60" font-size="31.36" textLength="49.08" lengthAdjust="spacingAndGlyphs">0.10</text>
<g transform="translate(25.8,627.3) rotate(-90)"><text class="al" x="-0.07" y="0.00" font-size="34.88" textLength="123.13" lengthAdjust="spacingAndGlyphs">Amount</text><text class="al" x="132.48" y="0.00" font-size="34.88" textLength="32.16" lengthAdjust="spacingAndGlyphs">of</text><text class="al" x="173.32" y="0.00" font-size="34.88" textLength="189.12" lengthAdjust="spacingAndGlyphs">randomness</text></g>
<text class="al" x="490.53" y="983.00" font-size="35.17" textLength="53.03" lengthAdjust="spacingAndGlyphs">CLL</text><text class="al" x="551.28" y="983.00" font-size="35.17" textLength="174.09" lengthAdjust="spacingAndGlyphs">Nonlocality</text>
<line x1="672.0" y1="988.6" x2="675.8" y2="983.4" stroke="#505050" stroke-width="1.8" stroke-linecap="round"/>
<text class="lp" x="736.20" y="982.90" font-size="38.62" textLength="15.17" lengthAdjust="spacingAndGlyphs">(</text><text class="mi" x="752.29" y="982.90" font-size="38.32" textLength="21.92" lengthAdjust="spacingAndGlyphs">P</text><text class="mi" x="770.52" y="990.60" font-size="27.02" textLength="47.24" lengthAdjust="spacingAndGlyphs">CLL</text><text class="lp" x="818.53" y="982.90" font-size="38.62" textLength="15.17" lengthAdjust="spacingAndGlyphs">)</text>
<rect x="117.7" y="278.9" width="957.9" height="282.3" fill="#fff" stroke="#000" stroke-width="3.1"/>
<rect x="150.1" y="305.2" width="36.8" height="5.4" fill="#ff0000"/>
<rect x="150.1" y="377.0" width="36.8" height="4.9" fill="#f7ef00"/>
<rect x="150.1" y="443.8" width="36.8" height="4.9" fill="#0033a0"/>
<rect x="134.6" y="517.9" width="19.4" height="4.9" fill="#00b04f"/><rect x="167.9" y="517.9" width="19.3" height="4.9" fill="#00b04f"/>
<text class="lg" x="198.19" y="316.70" font-size="36.19" textLength="627.89" lengthAdjust="spacingAndGlyphs">Maximum Achievable bound of randomness</text>
<text class="lg" x="198.55" y="387.70" font-size="36.19" textLength="607.52" lengthAdjust="spacingAndGlyphs">Quantum bound of guaranteed randomness</text>
<text class="lg" x="198.55" y="460.90" font-size="36.19" textLength="608.73" lengthAdjust="spacingAndGlyphs">Quantum bound of guaranteed randomness</text>
<text class="lg" x="198.18" y="533.70" font-size="36.19" textLength="521.69" lengthAdjust="spacingAndGlyphs">NS bound of guaranteed randomness</text>
<text class="lg" x="895.51" y="387.70" font-size="36.19" textLength="165.59" lengthAdjust="spacingAndGlyphs">- Analytical</text>
<text class="lg" x="894.68" y="460.90" font-size="36.19" textLength="85.84" lengthAdjust="spacingAndGlyphs">- SDP</text>
<text class="lp" x="836.63" y="314.95" font-size="35.95" textLength="14.13" lengthAdjust="spacingAndGlyphs">(</text><text class="mi" x="851.68" y="316.50" font-size="36.04" textLength="20.37" lengthAdjust="spacingAndGlyphs">R</text><text class="mi" x="872.72" y="323.30" font-size="29.35" textLength="54.32" lengthAdjust="spacingAndGlyphs">max</text><text class="lp" x="928.73" y="314.95" font-size="35.95" textLength="14.13" lengthAdjust="spacingAndGlyphs">)</text>
<text class="lp" x="816.16" y="388.29" font-size="47.97" textLength="15.43" lengthAdjust="spacingAndGlyphs">(</text><text class="mi" x="832.87" y="387.20" font-size="36.04" textLength="19.56" lengthAdjust="spacingAndGlyphs">R</text><text class="mi" x="852.28" y="393.73" font-size="26.62" textLength="15.63" lengthAdjust="spacingAndGlyphs">g</text><text class="lp" x="870.54" y="388.29" font-size="47.97" textLength="15.04" lengthAdjust="spacingAndGlyphs">)</text>
<text class="lp" x="816.16" y="462.09" font-size="47.97" textLength="15.43" lengthAdjust="spacingAndGlyphs">(</text><text class="mi" x="832.87" y="461.00" font-size="36.04" textLength="19.56" lengthAdjust="spacingAndGlyphs">R</text><text class="mi" x="852.28" y="467.53" font-size="26.62" textLength="15.63" lengthAdjust="spacingAndGlyphs">g</text><text class="lp" x="870.54" y="462.09" font-size="47.97" textLength="15.04" lengthAdjust="spacingAndGlyphs">)</text>
<text class="lp" x="729.76" y="534.69" font-size="47.97" textLength="15.43" lengthAdjust="spacingAndGlyphs">(</text><text class="mi" x="746.47" y="533.60" font-size="36.04" textLength="19.56" lengthAdjust="spacingAndGlyphs">R</text><text class="mi" x="765.88" y="540.13" font-size="26.62" textLength="15.63" lengthAdjust="spacingAndGlyphs">g</text><text class="lp" x="784.14" y="534.69" font-size="47.97" textLength="15.04" lengthAdjust="spacingAndGlyphs">)</text>
</svg>
</body></html>
